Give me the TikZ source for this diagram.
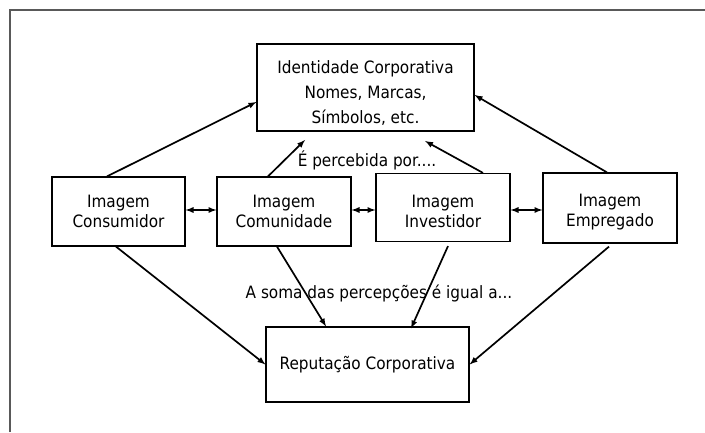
\documentclass[tikz,border=0pt]{standalone}
\usepackage{fontspec}
\setmainfont{DejaVu Sans Condensed}
\usetikzlibrary{arrows}
\tikzset{>=latex}

\begin{document}
\begin{tikzpicture}[x=1pt,y=1pt]
        % ident = identidade, rep = reputacao, cons/comu/inv/emp = imagens
        \tikzstyle{every node}=[font=\fontsize{17}{20}\selectfont]
        \tikzstyle{caixa}=[draw=black, line width=1.2pt, align=center, inner sep=0pt]
        \tikzstyle{every edge}=[black, ->, line width=1.7pt, draw]
        \useasboundingbox (0,0) rectangle (705,432);
        \draw[black!65, line width=2pt] (10,0) -- (10,422) -- (705,422);
        \node[caixa, minimum width=217pt, minimum height=87pt, font=\fontsize{17}{25}\selectfont] (ident) at (365.5,344.5)
                {\rule{0pt}{24pt}Identidade Corporativa\\Nomes, Marcas,\\Símbolos, etc.};
        \node[caixa, minimum width=133pt, minimum height=69pt] (cons) at (118.5,220.5) {Imagem\\Consumidor};
        \node[caixa, minimum width=134pt, minimum height=69pt] (comu) at (284,220.5) {Imagem\\Comunidade};
        \node[caixa, minimum width=134pt, minimum height=68pt] (inv) at (443,224.5) {\rule{0pt}{21pt}Imagem\\Investidor};
        \node[caixa, minimum width=134pt, minimum height=70pt] (emp) at (610,224) {\rule{0pt}{20pt}Imagem\\Empregado};
        \node[caixa, minimum width=203pt, minimum height=75pt] (rep) at (367.5,67.5) {Reputação Corporativa};
        \node (perc) at (367,272) {É percebida por....};
        \node (soma) at (379,139) {A soma das percepções é igual a...};
        \coordinate (pc1) at (305,292);
        \coordinate (pc2) at (425,291);
        \draw ([xshift=-11.5pt]cons.north) edge ([yshift=-14.5pt]ident.west);
        \draw ([xshift=-16pt]comu.north) edge (pc1);
        \draw ([xshift=40pt]inv.north) edge (pc2);
        \draw ([xshift=-3pt]emp.north) edge ([yshift=-7.5pt]ident.east);
        \draw ([yshift=1.5pt]cons.east) edge[<->] ([yshift=1.5pt]comu.west);
        \draw ([yshift=1.5pt]comu.east) edge[<->] ([yshift=1.5pt]comu.east -| inv.west);
        \draw ([yshift=-2.5pt]inv.east) edge[<->] ([yshift=-2.5pt]inv.east -| emp.west);
        \draw ([xshift=-2.5pt]cons.south) edge (rep.west);
        \draw ([xshift=-7pt]comu.south) edge ([xshift=-41.5pt]rep.north);
        \draw ([xshift=5pt, yshift=-4pt]inv.south) edge ([xshift=43.5pt, yshift=-2pt]rep.north);
        \draw ([xshift=-1pt, yshift=-3pt]emp.south) edge (rep.east);
\end{tikzpicture}
\end{document}
